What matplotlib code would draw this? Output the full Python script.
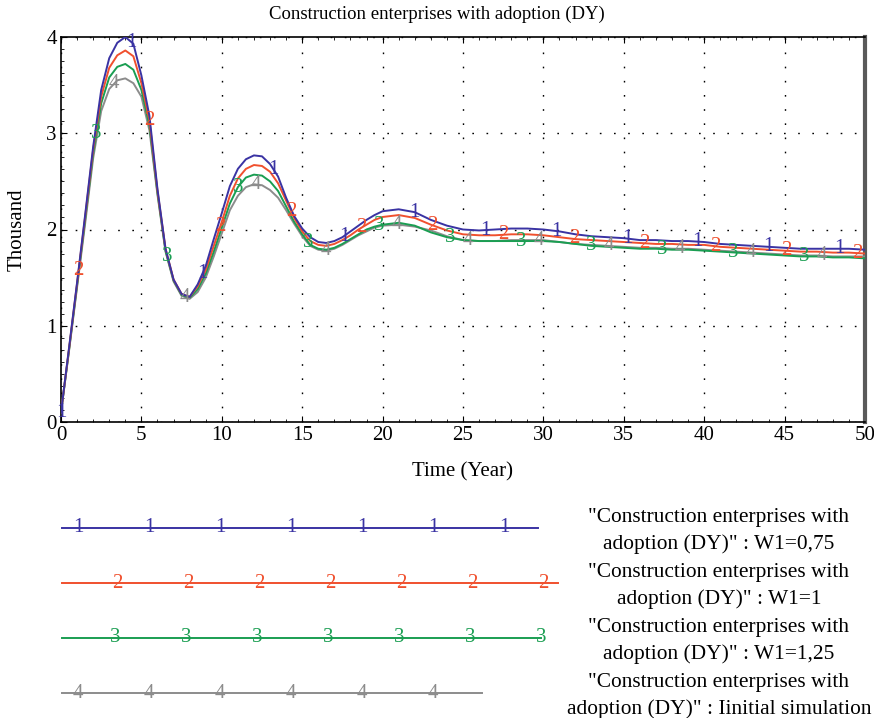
import numpy as np
import matplotlib
matplotlib.use("Agg")
import matplotlib.pyplot as plt
from matplotlib.lines import Line2D
from matplotlib.ticker import MultipleLocator

# ── Data ────────────────────────────────────────────────────────────────────
time = np.concatenate([np.arange(0, 20.01, 0.5), np.arange(21, 51, 1)])

w075 = [0.10, 0.77, 1.45, 2.15, 2.86, 3.45, 3.78, 3.94, 4.00, 3.93, 3.60,
        3.18, 2.42, 1.80, 1.48, 1.33, 1.30, 1.43, 1.62, 1.90, 2.17, 2.45,
        2.63, 2.73, 2.77, 2.76, 2.68, 2.55, 2.33, 2.14, 2.01, 1.92, 1.87,
        1.86, 1.88, 1.92, 1.98, 2.04, 2.10, 2.15, 2.19,
        2.21, 2.18, 2.10, 2.04, 2.00, 1.99, 2.00, 2.01, 2.01, 2.00,
        1.98, 1.95, 1.93, 1.92, 1.91, 1.89, 1.89, 1.88, 1.88, 1.87,
        1.85, 1.84, 1.83, 1.82, 1.81, 1.80, 1.80, 1.80, 1.80, 1.79]
w1 = [0.10, 0.76, 1.44, 2.13, 2.83, 3.38, 3.68, 3.81, 3.86, 3.80, 3.52,
      3.13, 2.40, 1.80, 1.48, 1.33, 1.30, 1.41, 1.58, 1.83, 2.08, 2.35,
      2.53, 2.63, 2.67, 2.66, 2.60, 2.48, 2.30, 2.12, 1.98, 1.88, 1.84,
      1.83, 1.85, 1.89, 1.94, 2.00, 2.05, 2.10, 2.13,
      2.15, 2.12, 2.05, 1.99, 1.95, 1.94, 1.94, 1.95, 1.95, 1.94,
      1.92, 1.90, 1.89, 1.88, 1.87, 1.86, 1.85, 1.85, 1.84, 1.84,
      1.82, 1.81, 1.80, 1.79, 1.78, 1.77, 1.77, 1.76, 1.76, 1.75]
w125 = [0.10, 0.75, 1.42, 2.10, 2.79, 3.31, 3.58, 3.69, 3.72, 3.66, 3.45,
        3.08, 2.38, 1.78, 1.47, 1.32, 1.29, 1.38, 1.54, 1.77, 2.02, 2.27,
        2.44, 2.54, 2.57, 2.56, 2.50, 2.40, 2.24, 2.08, 1.95, 1.84, 1.80,
        1.79, 1.81, 1.85, 1.90, 1.95, 2.00, 2.03, 2.05,
        2.07, 2.04, 1.97, 1.92, 1.89, 1.88, 1.88, 1.88, 1.88, 1.88,
        1.87, 1.85, 1.83, 1.82, 1.81, 1.80, 1.80, 1.79, 1.79, 1.78,
        1.77, 1.76, 1.75, 1.74, 1.73, 1.72, 1.72, 1.71, 1.71, 1.70]
initial = [0.10, 0.74, 1.40, 2.06, 2.74, 3.23, 3.46, 3.55, 3.57, 3.52, 3.38,
           3.03, 2.36, 1.77, 1.46, 1.31, 1.28, 1.35, 1.50, 1.72, 1.96, 2.20,
           2.35, 2.44, 2.47, 2.46, 2.41, 2.33, 2.20, 2.06, 1.93, 1.83, 1.79,
           1.78, 1.80, 1.84, 1.89, 1.94, 1.98, 2.02, 2.04,
           2.05, 2.03, 1.99, 1.93, 1.89, 1.88, 1.88, 1.89, 1.89, 1.89,
           1.87, 1.85, 1.84, 1.83, 1.82, 1.81, 1.81, 1.80, 1.80, 1.79,
           1.78, 1.77, 1.76, 1.75, 1.74, 1.73, 1.73, 1.72, 1.72, 1.72]

series = [w075, w1, w125, initial]
marks = ["1", "2", "3", "4"]
colors = ["#3a33a3", "#f0502e", "#1a9e52", "#8c8c8c"]
legend_labels = [
    "\"Construction enterprises with\nadoption (DY)\" : W1=0,75",
    "\"Construction enterprises with\nadoption (DY)\" : W1=1",
    "\"Construction enterprises with\nadoption (DY)\" : W1=1,25",
    "\"Construction enterprises with\nadoption (DY)\" : Iinitial simulation",
]

plt.rcParams["font.family"] = ["Liberation Serif", "DejaVu Serif"]

W, H = 874, 718
fig = plt.figure(figsize=(W / 100, H / 100), dpi=100)
ax = fig.add_axes([61 / W, 1 - 422 / H, 804 / W, 385 / H])

# curves: draw 4 first so 1 lands on top
for k in range(3, -1, -1):
    ax.plot(time, series[k], color=colors[k], lw=1.4, zorder=3 + (3 - k))
    # numbered markers every 4.4 years, shifted 1.1 per series
    for t in np.arange(1.1 * k, 50.01, 4.4):
        v = np.interp(t, time, series[k])
        ax.text(t, v, marks[k], color=colors[k], fontsize=15,
                ha="center", va="center", zorder=8)

ax.set_xlim(0, 50)
ax.set_ylim(0, 4)
ax.xaxis.set_major_locator(MultipleLocator(5))
ax.xaxis.set_minor_locator(MultipleLocator(1))
ax.yaxis.set_major_locator(MultipleLocator(1))
ax.yaxis.set_minor_locator(MultipleLocator(0.125))
ax.tick_params(which="both", direction="in", top=True, right=False,
               labelsize=15, pad=3)
ax.tick_params(which="major", length=4)
ax.tick_params(which="minor", length=2.5)
ax.grid(True, which="major", color="black", lw=1.0,
        linestyle=(0, (1.2, 9)))

for side in ("left", "bottom", "top"):
    ax.spines[side].set_linewidth(1.2)
ax.spines["right"].set_color("#5a5a5a")
ax.spines["right"].set_linewidth(3)

ax.set_xlabel("Time (Year)", fontsize=15)
ax.set_ylabel("Thousand", fontsize=15)
ax.xaxis.set_label_coords(0.5, -0.105)
ax.yaxis.set_label_coords(-0.043, 0.5)

fig.text(437 / W, 1 - 14 / H, "Construction enterprises with adoption (DY)",
         ha="center", va="center", fontsize=13.5)

# ── Legend ─────────────────────────────────────────────────────────────────
leg_y = [528, 583, 638, 693]
leg_end = [538, 558, 541, 482]
leg_first = [78, 117, 115, 78]
leg_count = [7, 7, 7, 6]
for k in range(4):
    y = 1 - leg_y[k] / H
    fig.add_artist(Line2D([62 / W, leg_end[k] / W], [y, y],
                          transform=fig.transFigure, color=colors[k], lw=1.4))
    for i in range(leg_count[k]):
        fig.text((leg_first[k] + 71 * i) / W, y, marks[k], color=colors[k],
                 fontsize=15, ha="center", va="center")
    fig.text(719 / W, y - 3 / H, legend_labels[k], ha="center", va="center",
             multialignment="center", fontsize=15.4, linespacing=1.45)

fig.savefig("out.png", dpi=100)
